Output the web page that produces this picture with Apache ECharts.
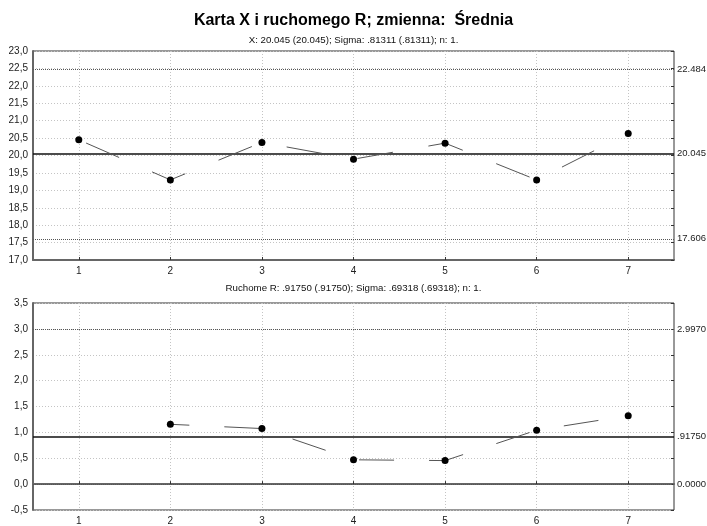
<!DOCTYPE html>
<html><head><meta charset="utf-8">
<script src="https://cdn.jsdelivr.net/npm/echarts@6/dist/echarts.min.js"></script>
<style>html,body{margin:0;padding:0;background:#fff}#chart{width:707px;height:526px}</style>
</head><body><div id="chart"></div>
<script>
// Sample numbers along the horizontal axis
const samples = ['1', '2', '3', '4', '5', '6', '7'];
// Individual values (X chart)
const xValues = [20.45, 19.30, 20.375, 19.895, 20.355, 19.30, 20.63];
// Moving ranges (first sample has none)
const mrValues = [null, 1.156, 1.074, 0.47, 0.455, 1.042, 1.322];
// Control limits: UCL, centre line, LCL
const xLimits = [22.484, 20.045, 17.606];
const xLimitLabels = ['22.484', '20.045', '17.606'];
const rLimits = [2.9970, 0.9175, 0.0];
const rLimitLabels = ['2.9970', '.91750', '0.0000'];
// Axis ranges
const xAxisRange = [17, 23];
const rAxisRange = [-0.5, 3.5];
// Texts
const titleText = 'Karta X i ruchomego R; zmienna:  Średnia';
const xSubtitle = 'X: 20.045 (20.045); Sigma: .81311 (.81311); n: 1.';
const rSubtitle = 'Ruchome R: .91750 (.91750); Sigma: .69318 (.69318); n: 1.';

const FONT = '"Liberation Sans", Arial, sans-serif';
const gridLine = { show: true, lineStyle: { color: '#c4c4c4', type: [1, 2], width: 1 } };

function limitLines(values, labels) {
  return values.map((v, i) => ({
    yAxis: v,
    label: { formatter: labels[i] },
    lineStyle: i === 1
      ? { color: '#111', width: 1.5, type: 'solid' }
      : { color: '#555', width: 1, type: [1, 1] }
  }));
}

function catAxis(gridIndex) {
  return {
    type: 'category', gridIndex, data: samples, boundaryGap: true,
    axisLine: { show: true, lineStyle: { color: '#666', width: 2 } },
    axisTick: { show: true, inside: true, length: 3, alignWithLabel: true, lineStyle: { color: '#333' } },
    axisLabel: { color: '#222', fontFamily: FONT, fontSize: 10, margin: 6 },
    splitLine: Object.assign({ alignWithLabel: true }, gridLine)
  };
}

function valAxis(gridIndex, range) {
  return {
    type: 'value', gridIndex, min: range[0], max: range[1], interval: 0.5,
    axisLine: { show: true, lineStyle: { color: '#666', width: 2 } },
    axisTick: { show: false },
    axisLabel: {
      color: '#222', fontFamily: FONT, fontSize: 10, margin: 5,
      formatter: v => v.toFixed(1).replace('.', ',')
    },
    splitLine: gridLine
  };
}

function rightAxis(gridIndex, range) {
  return {
    type: 'value', gridIndex, position: 'right', min: range[0], max: range[1], interval: 0.5,
    axisLine: { show: false },
    axisTick: { show: true, inside: true, length: 3, lineStyle: { color: '#333' } },
    axisLabel: { show: false },
    splitLine: { show: false }
  };
}

function dataSeries(xi, yi, values, limits, labels, dash, offset) {
  return {
    type: 'line', xAxisIndex: xi, yAxisIndex: yi, data: values,
    symbol: 'circle', symbolSize: 7, showSymbol: true, connectNulls: false,
    itemStyle: { color: '#000' },
    lineStyle: { color: '#555', width: 1, type: dash, dashOffset: offset },
    emphasis: { disabled: true },
    z: 5,
    markLine: {
      silent: true, symbol: 'none', animation: false,
      label: { position: 'end', distance: 3, color: '#222', fontFamily: FONT, fontSize: 9.5 },
      data: limitLines(limits, labels)
    }
  };
}

const chart = echarts.init(document.getElementById('chart'), null, { renderer: 'canvas' });
chart.setOption({
  animation: false,
  backgroundColor: '#fff',
  title: [
    { text: titleText, left: 'center', top: 8,
      textStyle: { fontFamily: FONT, fontSize: 16, fontWeight: 'bold', color: '#000' } },
    { text: xSubtitle, left: 'center', top: 30,
      textStyle: { fontFamily: FONT, fontSize: 9.7, fontWeight: 'normal', color: '#111' } },
    { text: rSubtitle, left: 'center', top: 278,
      textStyle: { fontFamily: FONT, fontSize: 9.7, fontWeight: 'normal', color: '#111' } }
  ],
  grid: [
    { left: 33, width: 641, top: 51, height: 209, show: true, borderColor: '#333', borderWidth: 1, backgroundColor: 'transparent' },
    { left: 33, width: 641, top: 303, height: 209, show: true, borderColor: '#333', borderWidth: 1, backgroundColor: 'transparent' }
  ],
  xAxis: [catAxis(0), catAxis(1)],
  yAxis: [valAxis(0, xAxisRange), valAxis(1, rAxisRange), rightAxis(0, xAxisRange), rightAxis(1, rAxisRange)],
  series: [
    dataSeries(0, 0, xValues, xLimits, xLimitLabels, [36, 36], 64),
    dataSeries(1, 1, mrValues, rLimits, rLimitLabels, [35, 35], 16)
  ]
});
</script>
</body></html>
